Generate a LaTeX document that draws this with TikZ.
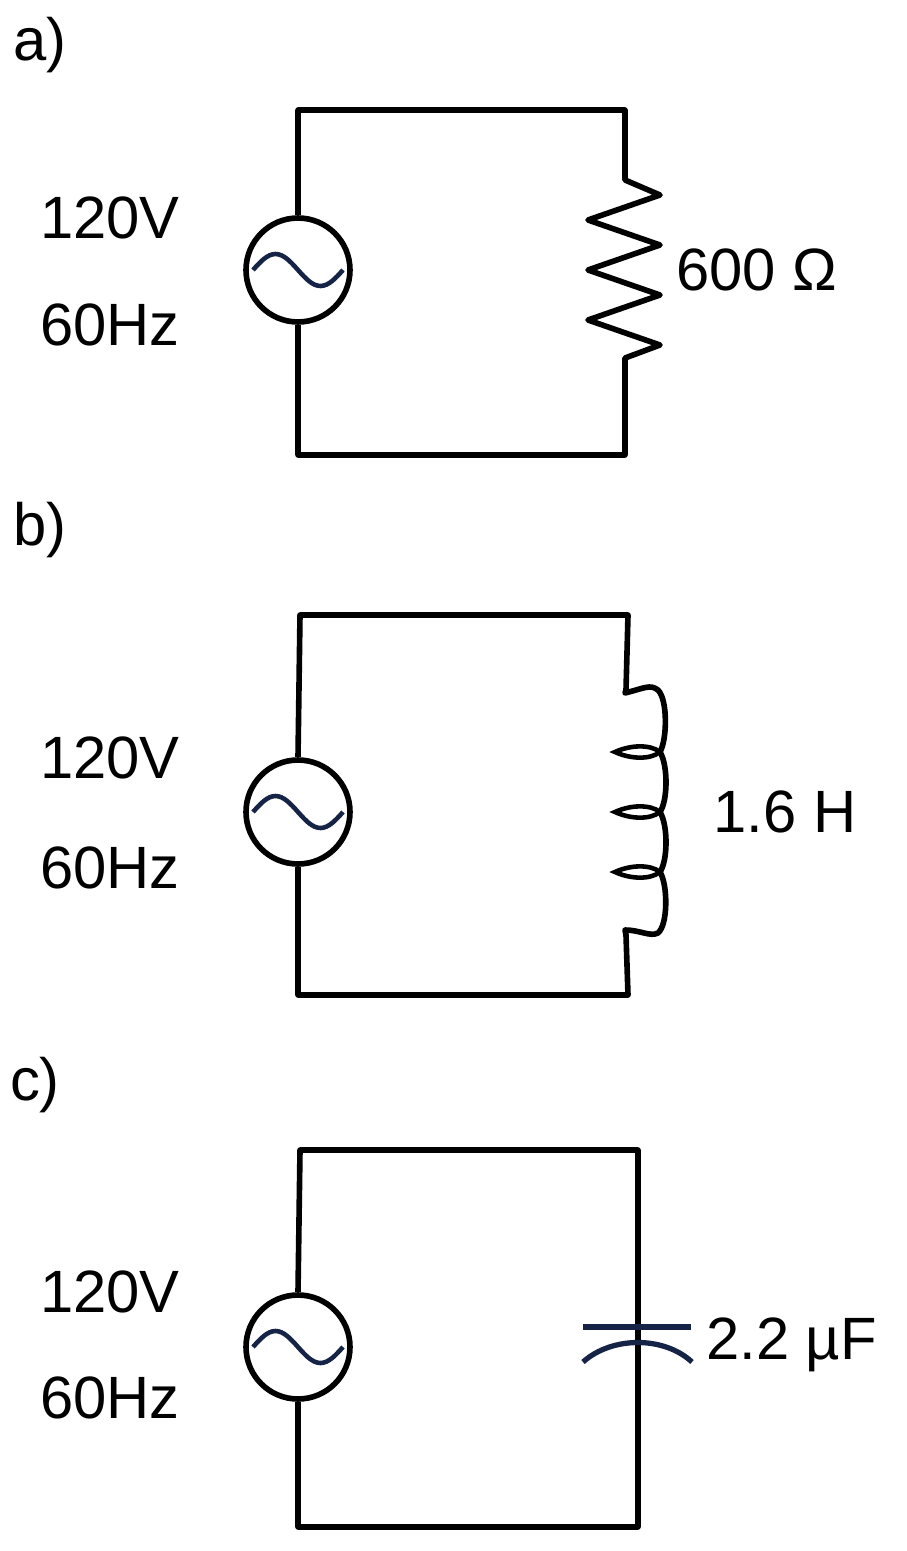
\documentclass[tikz,border=0pt]{standalone}
\usepackage{fontspec}
\setmainfont{Liberation Sans}
\definecolor{navy}{RGB}{20,35,70}
\begin{document}
\begin{tikzpicture}[x=0.02cm,y=-0.02cm,
  wire/.style={line width=3.2pt,line join=round},
  lbl/.style={font=\fontsize{34}{40}\selectfont,inner sep=0pt},
  src/.style={circle,draw,line width=3.2pt,minimum size=2.08cm,inner sep=0pt}]
\useasboundingbox (0,0) rectangle (906,1551);
% ---- a
\node[lbl] (la) at (40,45) {a)};
\node[src] (sa) at (298,270) {};
\draw[navy,line width=2.6pt] ([xshift=-0.9cm]sa.center) sin ++(0.45cm,0.32cm) cos ++(0.45cm,-0.32cm) sin ++(0.45cm,-0.32cm) cos ++(0.45cm,0.32cm);
\node[lbl] (va) at (110,218) {120V};
\node[lbl] (fa) at (110,325) {60Hz};
\coordinate (ra1) at (625,180); \coordinate (ra2) at (625,358);
\draw[wire] (sa.north) -- (298,110) -- (625,110) -- (ra1)
  -- (660,195) -- (588,220) -- (660,245) -- (588,270) -- (660,295) -- (588,320) -- (660,345) -- (ra2)
  -- (625,455) -- (298,455) -- (sa.south);
\node[lbl,anchor=west] (ra) at (676,270) {600 Ω};
% ---- b
\node[lbl] (lb) at (40,530) {b)};
\node[src] (sb) at (298,812) {};
\draw[navy,line width=2.6pt] ([xshift=-0.9cm]sb.center) sin ++(0.45cm,0.32cm) cos ++(0.45cm,-0.32cm) sin ++(0.45cm,-0.32cm) cos ++(0.45cm,0.32cm);
\node[lbl] (vb) at (110,758) {120V};
\node[lbl] (fb) at (110,868) {60Hz};
\coordinate (lb1) at (625,693); \coordinate (lb2) at (625,930);
\draw[wire] (sb.north) -- (300,615) -- (628,615) -- (626,690) -- (lb1)
  .. controls (645,688) and (650,684) .. (658,690)
  .. controls (668,700) and (667,740) .. (660,752)
  .. controls (668,765) and (668,800) .. (660,812)
  .. controls (668,825) and (668,860) .. (660,872)
  .. controls (668,885) and (668,925) .. (658,933)
  .. controls (650,937) and (640,930) .. (lb2)
  -- (626,935) -- (628,995) -- (298,995) -- (sb.south);
\foreach \yy in {752,812,872}
  \draw[line width=2.6pt] (660,\yy) .. controls (650,\yy-8) and (630,\yy-7) .. (615,\yy)
     .. controls (630,\yy+7) and (650,\yy+8) .. (660,\yy);
\node[lbl] (ib) at (785,812) {1.6 H};
% ---- c
\node[lbl] (lc) at (35,1085) {c)};
\node[src] (sc) at (298,1347) {};
\draw[navy,line width=2.6pt] ([xshift=-0.9cm]sc.center) sin ++(0.45cm,0.32cm) cos ++(0.45cm,-0.32cm) sin ++(0.45cm,-0.32cm) cos ++(0.45cm,0.32cm);
\node[lbl] (vc) at (110,1292) {120V};
\node[lbl] (fc) at (110,1398) {60Hz};
\draw[wire] (sc.north) -- (300,1150) -- (638,1150) -- (638,1527) -- (298,1527) -- (sc.south);
\draw[navy,line width=3pt] (583,1327) -- (691,1327);
\draw[navy,line width=3pt] (583,1362) .. controls (612,1336) and (664,1336) .. (692,1362);
\node[lbl,anchor=west] (cc) at (706,1345) {2.2 µF};
\end{tikzpicture}
\end{document}
